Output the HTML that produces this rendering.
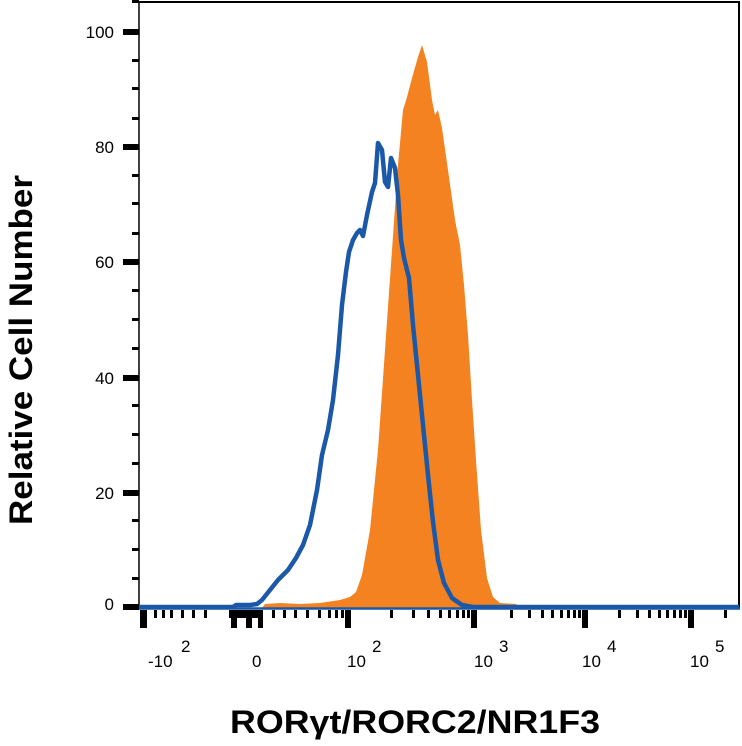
<!DOCTYPE html>
<html><head><meta charset="utf-8"><style>
body{margin:0;background:#fff;width:742px;height:746px;overflow:hidden}
svg{display:block}
text{font-family:"Liberation Sans",sans-serif}
</style></head><body>
<svg width="742" height="746" viewBox="0 0 742 746">
<line x1="139" y1="2" x2="740" y2="2" stroke="#000" stroke-width="2"/>
<line x1="739" y1="2" x2="739" y2="609" stroke="#000" stroke-width="2"/>
<line x1="139" y1="2" x2="139" y2="609" stroke="#000" stroke-width="1.5"/>
<g fill="#000">
<rect x="123" y="29" width="16" height="6"/><rect x="123" y="144" width="16" height="6"/>
<rect x="123" y="259" width="16" height="6"/><rect x="123" y="375" width="16" height="6"/>
<rect x="123" y="490" width="16" height="6"/><rect x="123" y="604" width="16" height="6"/>
<rect x="132" y="0" width="7" height="3"/>
<rect x="132" y="59" width="7" height="3"/><rect x="132" y="87" width="7" height="3"/><rect x="132" y="117" width="7" height="3"/>
<rect x="132" y="174" width="7" height="3"/><rect x="132" y="202" width="7" height="3"/><rect x="132" y="232" width="7" height="3"/>
<rect x="132" y="289" width="7" height="3"/><rect x="132" y="318" width="7" height="3"/><rect x="132" y="347" width="7" height="3"/>
<rect x="132" y="404" width="7" height="3"/><rect x="132" y="433" width="7" height="3"/><rect x="132" y="462" width="7" height="3"/>
<rect x="132" y="519" width="7" height="3"/><rect x="132" y="548" width="7" height="3"/><rect x="132" y="577" width="7" height="3"/>
</g>
<g font-size="17" text-anchor="end" fill="#000">
<text x="114" y="38">100</text><text x="114" y="153">80</text><text x="114" y="268">60</text>
<text x="114" y="384">40</text><text x="114" y="499">20</text><text x="114" y="610">0</text>
</g>
<polygon fill="#f58220" points="262,608 265,604 280,603 300,604 320,603 340,600 350,597 356,592 362,575 370,530 378,450 385,350 392,250 398,165 403,110 407,97 412,78 418,57 422,45 427,62 432,100 435,115 438,110 442,128 448,170 455,220 460,245 464,285 468,335 472,400 476,460 481,530 487,578 493,597 500,603 516,604 520,608"/>
<polyline fill="none" stroke="#1b58a8" stroke-width="4.5" stroke-linejoin="round" points="139,607 233,607 236,605 250,605 257,604 262,600 270,590 278,580 288,570 296,558 303,545 310,525 317,490 322,455 328,430 333,400 338,355 342,305 346,272 349,252 353,240 357,233 360,230 363,236 367,215 372,192 375,183 378,143 382,150 385,182 388,187 391,158 395,168 398,195 401,240 404,258 409,278 413,325 418,375 423,425 428,475 433,522 438,560 444,583 452,598 462,605 473,607 739,607"/>
<line x1="139" y1="608.5" x2="740" y2="608.5" stroke="#1b58a8" stroke-width="2.5"/>
<g fill="#000">
<rect x="140" y="610" width="7" height="18"/>
<rect x="154" y="610" width="3" height="8"/><rect x="162" y="610" width="3" height="8"/><rect x="170" y="610" width="3" height="8"/><rect x="181" y="610" width="3" height="8"/><rect x="192" y="610" width="3" height="8"/><rect x="204" y="610" width="3" height="8"/>
<rect x="229" y="610" width="34" height="8"/><rect x="231" y="610" width="6" height="18"/><rect x="246" y="610" width="6" height="18"/><rect x="258" y="610" width="5" height="18"/>
<rect x="272" y="610" width="3" height="8"/><rect x="283" y="610" width="3" height="8"/><rect x="294" y="610" width="3" height="8"/><rect x="306" y="610" width="3" height="8"/><rect x="318" y="610" width="3" height="8"/><rect x="328" y="610" width="3" height="8"/><rect x="335" y="610" width="3" height="8"/><rect x="341" y="610" width="3" height="8"/>
<rect x="345" y="610" width="6" height="18"/>
<rect x="390" y="610" width="3" height="8"/><rect x="412" y="610" width="3" height="8"/><rect x="427" y="610" width="3" height="8"/><rect x="439" y="610" width="3" height="8"/><rect x="448" y="610" width="3" height="8"/><rect x="456" y="610" width="3" height="8"/><rect x="462" y="610" width="3" height="8"/><rect x="467" y="610" width="3" height="8"/>
<rect x="471" y="610" width="6" height="18"/>
<rect x="510" y="610" width="3" height="8"/><rect x="528" y="610" width="3" height="8"/><rect x="541" y="610" width="3" height="8"/><rect x="551" y="610" width="3" height="8"/><rect x="560" y="610" width="3" height="8"/><rect x="567" y="610" width="3" height="8"/><rect x="573" y="610" width="3" height="8"/><rect x="578" y="610" width="3" height="8"/>
<rect x="582" y="610" width="6" height="18"/>
<rect x="618" y="610" width="3" height="8"/><rect x="636" y="610" width="3" height="8"/><rect x="648" y="610" width="3" height="8"/><rect x="658" y="610" width="3" height="8"/><rect x="666" y="610" width="3" height="8"/><rect x="673" y="610" width="3" height="8"/><rect x="679" y="610" width="3" height="8"/><rect x="684" y="610" width="3" height="8"/>
<rect x="688" y="610" width="6" height="18"/>
<rect x="724" y="610" width="3" height="8"/>
</g>
<g font-size="17" fill="#000">
<text x="148" y="667">-10</text><text x="181" y="652">2</text>
<text x="252" y="667">0</text>
<text x="347" y="667">10</text><text x="372" y="652">2</text>
<text x="474" y="667">10</text><text x="499" y="652">3</text>
<text x="582" y="667">10</text><text x="607" y="652">4</text>
<text x="690" y="667">10</text><text x="715" y="652">5</text>
</g>
<text x="230" y="733" font-size="32" font-weight="bold" textLength="370" lengthAdjust="spacingAndGlyphs">RORγt/RORC2/NR1F3</text>
<text transform="translate(32,525) rotate(-90)" font-size="32" font-weight="bold" textLength="350" lengthAdjust="spacingAndGlyphs">Relative Cell Number</text>
</svg>
</body></html>
